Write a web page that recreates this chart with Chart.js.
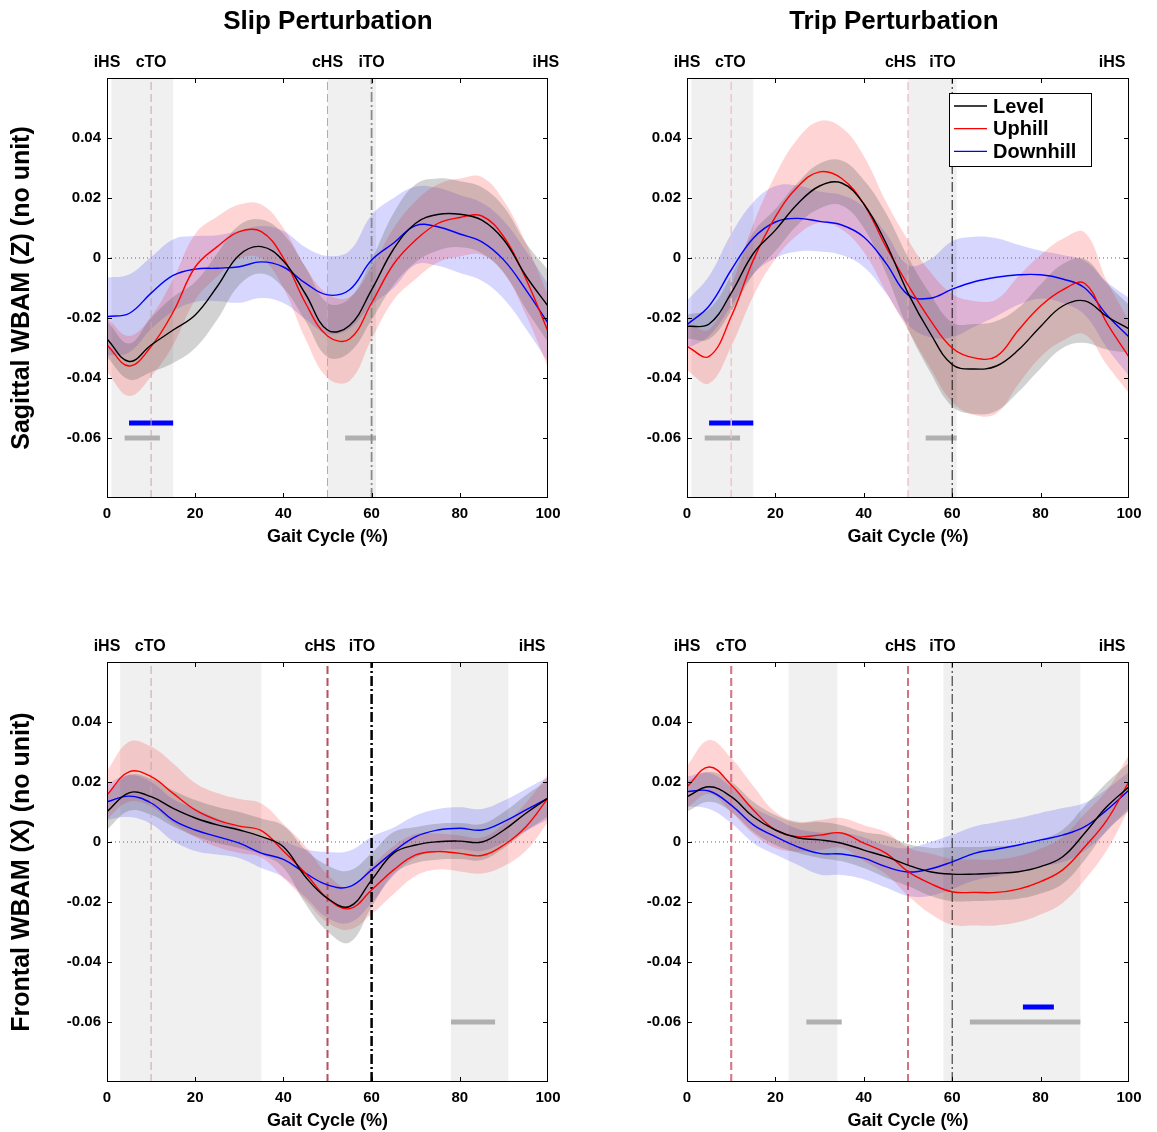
<!DOCTYPE html>
<html>
<head>
<meta charset="utf-8">
<title>WBAM during slip and trip perturbations</title>
<script src="https://cdn.jsdelivr.net/npm/chart.js@4.4.1/dist/chart.umd.min.js"></script>
<style>
  body { margin: 0; background: #fff; width: 1157px; height: 1132px; position: relative; overflow: hidden; }
  canvas { position: absolute; }
</style>
</head>
<body>
<canvas id="slipSag" width="578" height="548" style="left:0;top:0"></canvas>
<canvas id="tripSag" width="578" height="548" style="left:580px;top:0"></canvas>
<canvas id="slipFront" width="578" height="547" style="left:0;top:585px"></canvas>
<canvas id="tripFront" width="578" height="547" style="left:580px;top:585px"></canvas>
<script>
// gait cycle samples (%)
const gaitPct = [0, 5, 10, 15, 20, 25, 30, 35, 40, 45, 50, 55, 60, 65, 70, 75, 80, 85, 90, 95, 100];
const yMin = -0.08, yMax = 0.06;

// event markers drawn above each panel
const eventNames = ['iHS', 'cTO', 'cHS', 'iTO', 'iHS'];
const eventLineX = [10, 50, 60]; // cTO, cHS, iTO

// --- Slip, sagittal WBAM (Z)
const slipSagLevel     = [-0.027, -0.0345, -0.029, -0.024, -0.019, -0.0095, 0.001, 0.0038, -0.001, -0.012, -0.024, -0.0225, -0.0106, 0.003, 0.0116, 0.0145, 0.0146, 0.0126, 0.006, -0.006, -0.016];
const slipSagLevelSd   = [0.006, 0.006, 0.009, 0.011, 0.011, 0.011, 0.010, 0.009, 0.009, 0.009, 0.009, 0.009, 0.010, 0.012, 0.013, 0.012, 0.011, 0.011, 0.011, 0.011, 0.012];
const slipSagUphill    = [-0.029, -0.036, -0.0295, -0.018, -0.003, 0.0038, 0.0088, 0.0088, 0.0, -0.015, -0.026, -0.027, -0.015, -0.002, 0.006, 0.0115, 0.0135, 0.014, 0.007, -0.007, -0.0245];
const slipSagUphillSd  = [0.009, 0.010, 0.010, 0.011, 0.011, 0.010, 0.009, 0.009, 0.010, 0.012, 0.014, 0.014, 0.012, 0.012, 0.013, 0.013, 0.013, 0.013, 0.012, 0.012, 0.012];
const slipSagDownhill  = [-0.0195, -0.0185, -0.0117, -0.0058, -0.0037, -0.0034, -0.0029, -0.0013, -0.003, -0.0084, -0.0123, -0.0106, -0.0007, 0.005, 0.0108, 0.0104, 0.008, 0.0054, -0.0007, -0.0106, -0.0217];
const slipSagDownhillSd = [0.013, 0.013, 0.012, 0.012, 0.011, 0.011, 0.012, 0.012, 0.012, 0.012, 0.013, 0.013, 0.015, 0.015, 0.013, 0.013, 0.013, 0.013, 0.013, 0.013, 0.013];
const slipSagEventTextX = [0, 10, 50, 60, 99.5];
const slipSagPhases = [[1, 15], [50, 61]];
const slipSagSigGray = [[4, 12], [54, 61]];
const slipSagSigBlue = [[5, 15]];

// --- Trip, sagittal WBAM (Z)
const tripSagLevel     = [-0.0228, -0.022, -0.0117, 0.0015, 0.0093, 0.018, 0.024, 0.025, 0.018, 0.005, -0.0117, -0.025, -0.0355, -0.037, -0.036, -0.0306, -0.0228, -0.016, -0.0143, -0.0195, -0.0236];
const tripSagLevelSd   = [0.004, 0.005, 0.006, 0.007, 0.007, 0.007, 0.0075, 0.0075, 0.008, 0.010, 0.012, 0.013, 0.014, 0.015, 0.015, 0.014, 0.014, 0.014, 0.014, 0.011, 0.008];
const tripSagUphill    = [-0.0295, -0.0328, -0.0195, -0.0007, 0.0137, 0.0237, 0.0287, 0.0265, 0.018, 0.0038, -0.009, -0.0206, -0.030, -0.0333, -0.0328, -0.024, -0.016, -0.0106, -0.0085, -0.0217, -0.033];
const tripSagUphillSd  = [0.008, 0.009, 0.010, 0.012, 0.014, 0.016, 0.017, 0.017, 0.016, 0.015, 0.015, 0.016, 0.018, 0.019, 0.019, 0.018, 0.017, 0.017, 0.017, 0.014, 0.012];
const tripSagDownhill  = [-0.0222, -0.016, -0.004, 0.0066, 0.012, 0.0132, 0.0122, 0.011, 0.007, -0.0017, -0.0123, -0.0134, -0.0104, -0.0079, -0.0064, -0.0056, -0.0056, -0.007, -0.010, -0.019, -0.0263];
const tripSagDownhillSd = [0.008, 0.010, 0.012, 0.012, 0.012, 0.011, 0.010, 0.010, 0.010, 0.010, 0.010, 0.013, 0.016, 0.015, 0.013, 0.010, 0.008, 0.008, 0.009, 0.011, 0.013];
const tripSagEventTextX = [0, 9.8, 48.3, 57.8, 96.2];
const tripSagPhases = [[1, 15], [50, 61]];
const tripSagSigGray = [[4, 12], [54, 61]];
const tripSagSigBlue = [[5, 15]];

// --- Slip, frontal WBAM (X)
const slipFrontLevel     = [0.0101, 0.0164, 0.0151, 0.0112, 0.008, 0.0057, 0.004, 0.0018, -0.0016, -0.0116, -0.0188, -0.0215, -0.0127, -0.0037, -0.001, 0.0001, 0.0003, 0.0, 0.004, 0.0096, 0.0146];
const slipFrontLevelSd   = [0.006, 0.006, 0.006, 0.006, 0.006, 0.006, 0.006, 0.006, 0.007, 0.009, 0.011, 0.012, 0.009, 0.007, 0.006, 0.006, 0.006, 0.006, 0.006, 0.006, 0.006];
const slipFrontUphill    = [0.0157, 0.0234, 0.0218, 0.0162, 0.0107, 0.0073, 0.0053, 0.0038, -0.003, -0.0104, -0.0188, -0.0222, -0.016, -0.0093, -0.0043, -0.0032, -0.0038, -0.0045, -0.001, 0.0051, 0.0146];
const slipFrontUphillSd  = [0.008, 0.010, 0.010, 0.010, 0.009, 0.009, 0.009, 0.009, 0.009, 0.009, 0.008, 0.007, 0.008, 0.008, 0.007, 0.006, 0.006, 0.006, 0.007, 0.008, 0.008];
const slipFrontDownhill  = [0.0134, 0.0153, 0.013, 0.0073, 0.004, 0.0018, -0.0004, -0.0037, -0.0058, -0.0104, -0.0143, -0.0149, -0.0093, -0.0032, 0.0018, 0.004, 0.0046, 0.004, 0.0068, 0.0107, 0.0146];
const slipFrontDownhillSd = [0.006, 0.007, 0.007, 0.007, 0.007, 0.006, 0.005, 0.005, 0.006, 0.008, 0.011, 0.012, 0.011, 0.008, 0.007, 0.007, 0.007, 0.007, 0.007, 0.007, 0.007];
const slipFrontEventTextX = [0, 9.8, 48.3, 57.8, 96.4];
const slipFrontPhases = [[3, 35], [78, 91]];
const slipFrontSigGray = [[78, 88]];
const slipFrontSigBlue = [];

// --- Trip, frontal WBAM (X)
const tripFrontLevel     = [0.0151, 0.0184, 0.0151, 0.0084, 0.004, 0.0014, 0.0007, -0.0004, -0.0027, -0.0049, -0.0077, -0.0099, -0.0107, -0.0107, -0.0104, -0.0099, -0.0082, -0.0049, 0.003, 0.0118, 0.0184];
const tripFrontLevelSd   = [0.005, 0.005, 0.005, 0.005, 0.005, 0.005, 0.006, 0.006, 0.006, 0.007, 0.007, 0.008, 0.009, 0.009, 0.009, 0.009, 0.009, 0.009, 0.009, 0.008, 0.008];
const tripFrontUphill    = [0.0184, 0.025, 0.019, 0.0107, 0.004, 0.0018, 0.0023, 0.003, -0.0004, -0.0037, -0.0099, -0.0138, -0.0166, -0.0168, -0.0168, -0.0157, -0.0132, -0.0093, -0.0016, 0.0073, 0.0201];
const tripFrontUphillSd  = [0.007, 0.009, 0.009, 0.008, 0.006, 0.005, 0.005, 0.005, 0.006, 0.007, 0.008, 0.010, 0.011, 0.011, 0.011, 0.011, 0.011, 0.011, 0.011, 0.010, 0.009];
const tripFrontDownhill  = [0.0168, 0.017, 0.0123, 0.0057, 0.0018, -0.0016, -0.0038, -0.004, -0.0054, -0.0082, -0.010, -0.009, -0.0066, -0.0038, -0.0024, -0.001, 0.0007, 0.0023, 0.0051, 0.0107, 0.0173];
const tripFrontDownhillSd = [0.005, 0.006, 0.006, 0.006, 0.006, 0.006, 0.007, 0.007, 0.007, 0.007, 0.008, 0.009, 0.009, 0.009, 0.009, 0.009, 0.009, 0.009, 0.008, 0.007, 0.006];
const tripFrontEventTextX = [0, 10, 48.3, 57.8, 96.2];
const tripFrontPhases = [[23, 34], [58, 89]];
const tripFrontSigGray = [[27, 35], [64, 89]];
const tripFrontSigBlue = [[76, 83]];

const sigGrayY = -0.06, sigBlueY = -0.055;

Chart.defaults.font.family = '"Liberation Sans", Arial, Helvetica, sans-serif';
Chart.defaults.color = '#000';

const pts = (ys) => gaitPct.map((x, i) => ({ x, y: ys[i] }));
const shift = (ys, sd, s) => ys.map((v, i) => v + s * sd[i]);

// line styles for the cTO / cHS / iTO markers, one set per panel
const dash = [8, 4], dashDot = [10, 3, 2, 3];
const panels = [
  { id: 'slipSag', title: 'Slip Perturbation', titleAt: 50.1, yTitle: 'Sagittal WBAM (Z) (no unit)', padRight: 30,
    d: [slipSagLevel, slipSagLevelSd, slipSagUphill, slipSagUphillSd, slipSagDownhill, slipSagDownhillSd],
    textX: slipSagEventTextX, phases: slipSagPhases, sigGray: slipSagSigGray, sigBlue: slipSagSigBlue,
    lines: [{ c: '#c9a3ac', w: 1, d: dash }, { c: '#c9a3ac', w: 1, d: dash }, { c: '#8a8a8a', w: 1.8, d: dashDot }] },
  { id: 'tripSag', title: 'Trip Perturbation', titleAt: 46.8, yTitle: '', padRight: 29, legend: true,
    d: [tripSagLevel, tripSagLevelSd, tripSagUphill, tripSagUphillSd, tripSagDownhill, tripSagDownhillSd],
    textX: tripSagEventTextX, phases: tripSagPhases, sigGray: tripSagSigGray, sigBlue: tripSagSigBlue,
    lines: [{ c: '#f2c2ca', w: 1.5, d: dash }, { c: '#e6aab6', w: 1, d: dash }, { c: '#111', w: 1, d: dashDot }] },
  { id: 'slipFront', title: '', yTitle: 'Frontal WBAM (X) (no unit)', padRight: 30,
    d: [slipFrontLevel, slipFrontLevelSd, slipFrontUphill, slipFrontUphillSd, slipFrontDownhill, slipFrontDownhillSd],
    textX: slipFrontEventTextX, phases: slipFrontPhases, sigGray: slipFrontSigGray, sigBlue: slipFrontSigBlue,
    lines: [{ c: '#c9a3ac', w: 1, d: dash }, { c: '#b8505f', w: 2, d: dash }, { c: '#000', w: 2.5, d: dashDot }] },
  { id: 'tripFront', title: '', yTitle: '', padRight: 29,
    d: [tripFrontLevel, tripFrontLevelSd, tripFrontUphill, tripFrontUphillSd, tripFrontDownhill, tripFrontDownhillSd],
    textX: tripFrontEventTextX, phases: tripFrontPhases, sigGray: tripFrontSigGray, sigBlue: tripFrontSigBlue,
    lines: [{ c: '#d27d8c', w: 2.2, d: dash }, { c: '#b01a34', w: 1.2, d: dash }, { c: '#222', w: 1, d: dashDot }] }
];

const conditions = [
  { label: 'Level', line: '#000000', band: 'rgba(95,95,95,0.28)' },
  { label: 'Uphill', line: '#ff0000', band: 'rgba(255,0,0,0.17)' },
  { label: 'Downhill', line: '#0000ff', band: 'rgba(0,0,255,0.16)' }
];

// shaded phases, frame, inward ticks, titles, event names and legend
const gaitDecor = {
  id: 'gaitDecor',
  beforeDraw(chart) {
    const p = chart.options.plugins.gaitDecor;
    const { ctx, chartArea: a, scales: { x } } = chart;
    ctx.save();
    ctx.fillStyle = '#f0f0f0';
    p.phases.forEach(([x0, x1]) => {
      const l = x.getPixelForValue(x0), r = x.getPixelForValue(x1);
      ctx.fillRect(l, a.top, r - l, a.bottom - a.top);
    });
    ctx.restore();
  },
  afterDraw(chart) {
    const p = chart.options.plugins.gaitDecor;
    const { ctx, chartArea: a, scales: { x, y } } = chart;
    ctx.save();
    ctx.strokeStyle = '#000';
    ctx.lineWidth = 1;
    ctx.strokeRect(a.left + 0.5, a.top + 0.5, a.right - a.left - 1, a.bottom - a.top - 1);
    ctx.beginPath();
    x.ticks.forEach(t => {
      const px = Math.round(x.getPixelForValue(t.value)) + 0.5;
      if (px <= a.left + 1 || px >= a.right - 1) return;
      ctx.moveTo(px, a.bottom); ctx.lineTo(px, a.bottom - 5);
      ctx.moveTo(px, a.top); ctx.lineTo(px, a.top + 5);
    });
    y.ticks.forEach(t => {
      const py = Math.round(y.getPixelForValue(t.value)) + 0.5;
      if (py <= a.top + 1 || py >= a.bottom - 1) return;
      ctx.moveTo(a.left, py); ctx.lineTo(a.left + 5, py);
      ctx.moveTo(a.right, py); ctx.lineTo(a.right - 5, py);
    });
    ctx.stroke();

    ctx.fillStyle = '#000';
    ctx.textAlign = 'center';
    ctx.textBaseline = 'middle';
    if (p.title) {
      ctx.font = 'bold 26px "Liberation Sans", Arial, sans-serif';
      ctx.fillText(p.title, x.getPixelForValue(p.titleAt), a.top - 56);
    }
    ctx.font = 'bold 16px "Liberation Sans", Arial, sans-serif';
    eventNames.forEach((name, i) => ctx.fillText(name, x.getPixelForValue(p.textX[i]), a.top - 15.5));

    if (p.legend) {
      const items = chart.data.datasets.filter(d => d.isMean);
      const bw = 142, bh = 73;
      const bx = a.right - 38 - bw, by = a.top + 15;
      ctx.fillStyle = '#fff';
      ctx.fillRect(bx, by, bw, bh);
      ctx.strokeStyle = '#000';
      ctx.strokeRect(bx + 0.5, by + 0.5, bw, bh);
      ctx.font = 'bold 20px "Liberation Sans", Arial, sans-serif';
      ctx.textAlign = 'left';
      items.forEach((d, i) => {
        const ry = by + 13 + i * 22.7;
        ctx.strokeStyle = d.borderColor;
        ctx.lineWidth = 1.3;
        ctx.beginPath(); ctx.moveTo(bx + 5, ry); ctx.lineTo(bx + 38, ry); ctx.stroke();
        ctx.fillStyle = '#000';
        ctx.fillText(d.label, bx + 44, ry + 1);
      });
    }
    ctx.restore();
  }
};

function buildDatasets(p) {
  const ds = [];
  conditions.forEach((c, k) => {
    ds.push({ label: c.label, isMean: true, data: pts(p.d[2 * k]), borderColor: c.line, borderWidth: 1.4,
      pointRadius: 0, tension: 0.4, fill: false, order: k });
  });
  eventLineX.forEach((ex, k) => {
    ds.push({ data: [{ x: ex, y: yMin }, { x: ex, y: yMax }], borderColor: p.lines[k].c, borderWidth: p.lines[k].w,
      borderDash: p.lines[k].d, pointRadius: 0, fill: false, order: 5 });
  });
  ds.push({ data: [{ x: 0, y: 0 }, { x: 100, y: 0 }], borderColor: '#666', borderWidth: 1, borderDash: [1, 3],
    pointRadius: 0, fill: false, order: 6 });
  p.sigGray.forEach(([x0, x1]) => ds.push({ data: [{ x: x0, y: sigGrayY }, { x: x1, y: sigGrayY }], borderColor: '#b0b0b0',
    borderWidth: 5, borderCapStyle: 'butt', pointRadius: 0, fill: false, order: 7 }));
  p.sigBlue.forEach(([x0, x1]) => ds.push({ data: [{ x: x0, y: sigBlueY }, { x: x1, y: sigBlueY }], borderColor: '#0000ff',
    borderWidth: 5, borderCapStyle: 'butt', pointRadius: 0, fill: false, order: 7 }));
  // mean +/- sd bands, filled from upper to lower edge
  conditions.forEach((c, k) => {
    const m = p.d[2 * k], sd = p.d[2 * k + 1];
    ds.push({ data: pts(shift(m, sd, 1)), fill: '+1', backgroundColor: c.band, borderColor: 'rgba(0,0,0,0)',
      borderWidth: 0, pointRadius: 0, tension: 0.4, order: 20 });
    ds.push({ data: pts(shift(m, sd, -1)), fill: false, borderColor: 'rgba(0,0,0,0)',
      borderWidth: 0, pointRadius: 0, tension: 0.4, order: 20 });
  });
  return ds;
}

panels.forEach((p, n) => {
  new Chart(document.getElementById(p.id), {
    type: 'line',
    data: { datasets: buildDatasets(p) },
    options: {
      responsive: false,
      animation: false,
      events: [],
      layout: { padding: { top: n < 2 ? 78 : 77, right: p.padRight, left: 0, bottom: 0 } },
      scales: {
        x: {
          type: 'linear', min: 0, max: 100,
          ticks: { stepSize: 20, padding: 7, font: { size: 15, weight: 'bold' }, maxRotation: 0 },
          grid: { display: false, drawTicks: false }, border: { display: false },
          title: { display: true, text: 'Gait Cycle (%)', font: { size: 18, weight: 'bold', lineHeight: 1.2 }, padding: 0 },
          afterFit: s => { s.height = 50; }
        },
        y: {
          min: yMin, max: yMax,
          ticks: {
            stepSize: 0.02, padding: 6, font: { size: 15, weight: 'bold' },
            callback: v => {
              const r = Math.round(v * 100) / 100;
              if (r <= yMin || r >= yMax) return '';
              return r === 0 ? '0' : r.toFixed(2);
            }
          },
          grid: { display: false, drawTicks: false }, border: { display: false },
          title: { display: !!p.yTitle, text: p.yTitle, font: { size: 25, weight: 'bold', lineHeight: 1.2 }, padding: { top: 7, bottom: 0 } },
          afterFit: s => { s.width = 107; }
        }
      },
      plugins: {
        legend: { display: false },
        tooltip: { enabled: false },
        title: { display: false },
        gaitDecor: { phases: p.phases, textX: p.textX, legend: !!p.legend, title: p.title, titleAt: p.titleAt }
      }
    },
    plugins: [gaitDecor]
  });
});
</script>
</body>
</html>
